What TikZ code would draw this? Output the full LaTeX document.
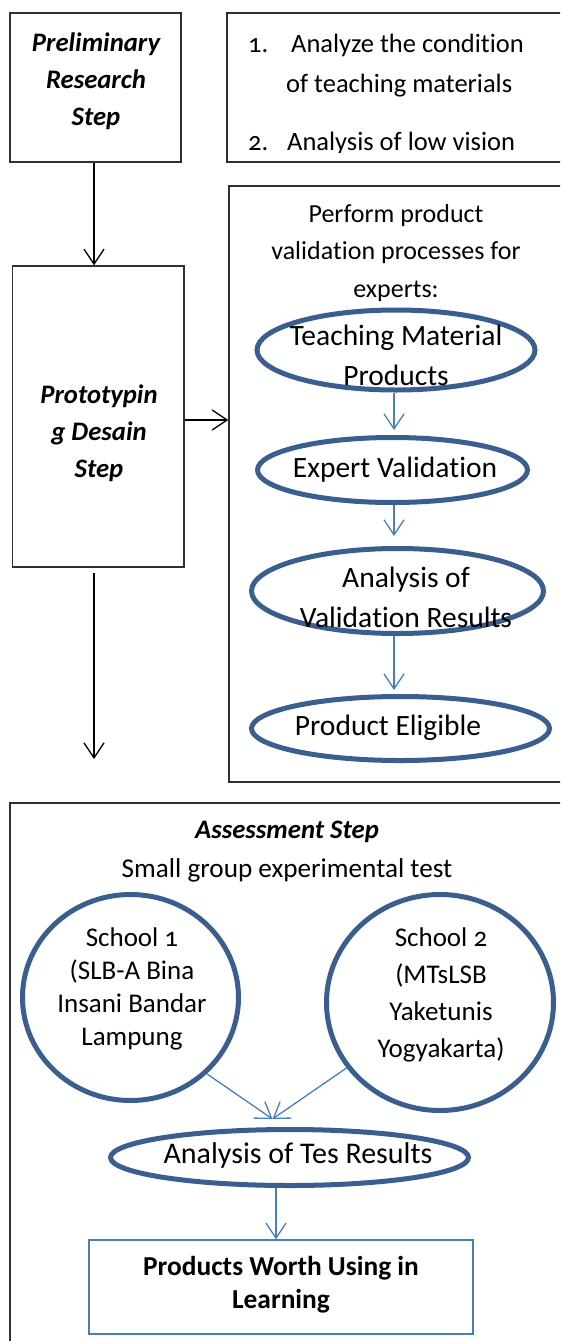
\documentclass[tikz,border=0pt]{standalone}
\usepackage{fontspec}
\setmainfont{Carlito}[Numbers=OldStyle, Ligatures={NoCommon,NoContextual}, Contextuals=NoAlternate]
\usetikzlibrary{arrows.meta,shapes.geometric,calc}
\definecolor{ellblue}{HTML}{3A5F8E}
\definecolor{arrblue}{HTML}{4A7EBB}
\definecolor{boxline}{HTML}{303030}
\newcommand{\ml}[1]{\begin{tabular}[t]{@{}c@{}}#1\end{tabular}}
\begin{document}
\begin{tikzpicture}[x=1pt,y=-1pt,
  box/.style={draw=boxline, line width=1.4pt, rectangle, inner sep=0pt},
  ell/.style={draw=ellblue, line width=5pt, ellipse, inner sep=0pt},
  txt/.style={anchor=base, inner sep=0pt},
  ltxt/.style={anchor=base west, inner sep=0pt},
  karrow/.style={draw=black, line width=1.3pt, -{Straight Barb[length=15pt,width=20pt]}},
  barrow/.style={draw=arrblue, line width=1.3pt, -{Straight Barb[length=15pt,width=20pt]}},
  fbox/.style={font=\fontsize{26}{37.5}\selectfont},
  fbi/.style={font=\fontsize{26.7}{37}\selectfont\bfseries\itshape},
  fell/.style={font=\fontsize{29.5}{40}\selectfont},
]
\clip (0,0) rectangle (560,1341);
\fill[white] (0,0) rectangle (560,1341);

% top row
\node[box, minimum width=171pt, minimum height=149pt] (b1) at (95.5,87.5) {};
\node[txt, fbi] (t1) at (96,51) {\ml{Preliminary\\Research\\Step}};

\node[box, minimum width=343pt, minimum height=149pt] (b2) at (398.5,87.5) {};
\begin{scope}
\clip (220,15) rectangle (570,152);
\node[ltxt, font=\fontsize{26.5}{37}\selectfont] (n1) at (248,52) {1.};
\node[ltxt, font=\fontsize{26.5}{37}\selectfont] (l1) at (291,52) {Analyze the condi\kern0pt tion};
\node[ltxt, font=\fontsize{26.5}{37}\selectfont] (l2) at (286,92) {of teaching materials};
\node[ltxt, font=\fontsize{26.5}{37}\selectfont] (n2) at (248,150) {2.};
\node[ltxt, font=\fontsize{26.5}{37}\selectfont] (l3) at (287,150) {Analysis of low vision};
\end{scope}

% prototyping
\node[box, minimum width=171.5pt, minimum height=301pt] (b3) at (98.25,416.5) {};
\node[txt, fbi] (t3) at (99,403) {\ml{Prototypin\\g Desain\\Step}};

\node[box, minimum width=341pt, minimum height=596pt] (b4) at (399.5,484) {};
\node[txt, fbox] (t4) at (396,222) {\ml{Perform product\\valida\kern0pt tion processes for\\experts:}};

\node[ell, minimum width=278pt, minimum height=80pt] (e1) at (396,350) {};
\node[txt, fell] (te1) at (396,345) {\ml{Teaching Material\\Products}};
\node[ell, minimum width=270pt, minimum height=65pt] (e2) at (392.5,470) {};
\node[txt, fell] (te2) at (395,477) {Expert Valida\kern0pt tion};
\node[ell, minimum width=292pt, minimum height=85pt] (e3) at (397.5,591) {};
\node[txt, fell] (te3) at (406,587) {\ml{Analysis of\\Valida\kern0pt tion Results}};
\node[ell, minimum width=298pt, minimum height=64pt] (e4) at (400.5,728.5) {};
\node[txt, fell] (te4) at (388,735) {Product Eligible};

\draw[barrow, shorten >=5pt] ([xshift=-2pt]e1.south) -- ([xshift=-2pt]e1.south |- e2.north);
\draw[barrow, shorten >=10pt] ([xshift=1.5pt]e2.south) -- ([xshift=1.5pt]e2.south |- e3.north);
\draw[barrow, shorten >=4pt] ([xshift=-3.5pt]e3.south) -- ([xshift=-3.5pt]e3.south |- e4.north);

% black arrows
\draw[karrow] ([xshift=-1.5pt]b1.south) -- ([xshift=-1.5pt]b1.south |- b3.north);
\draw[karrow] ([yshift=-3.5pt]b3.east) -- ([yshift=-3.5pt]b3.east -| b4.west);
\coordinate (down) at (94,759);
\draw[karrow] ([xshift=-4.25pt,yshift=-5pt]b3.south) -- (down);

% assessment
\node[box, minimum width=560pt, minimum height=560pt] (b5) at (290,1083) {};
\node[txt, fbi] (t5) at (287,838) {Assessment Step};
\node[txt, font=\fontsize{27.2}{37}\selectfont] (t6) at (287,877) {Small group experimental test};

\node[ell, minimum width=216pt, minimum height=206pt] (c1) at (130.5,997.5) {};
\node[txt, font=\fontsize{27}{33}\selectfont] (tc1) at (132,946) {\ml{School 1\\(SLB-A Bina\\Insani Bandar\\Lampung}};
\node[ell, minimum width=227pt, minimum height=216pt] (c2) at (440,1002.5) {};
\node[txt, font=\fontsize{27}{37}\selectfont] (tc2) at (441,946) {\ml{School 2\\(MTsLSB\\Yaketunis\\Yogyakarta)}};

\node[ell, minimum width=358pt, minimum height=56pt] (e5) at (289.5,1157.5) {};
\node[txt, font=\fontsize{30}{40}\selectfont] (te5) at (298,1163) {Analysis of Tes Results};

\draw[barrow] (c1.-45) -- ([xshift=-17pt,yshift=8pt]e5.north);
\draw[barrow] (c2.215) -- ([xshift=-17pt,yshift=8pt]e5.north);

\node[box, draw=arrblue, minimum width=384pt, minimum height=94pt] (b6) at (281,1287) {};
\node[txt, font=\fontsize{27.4}{33}\selectfont\bfseries] (t7) at (281,1275) {\ml{Products Worth Using in\\Learning}};
\draw[barrow] ([xshift=-13.5pt]e5.south) -- ([xshift=-13.5pt]e5.south |- b6.north);
\end{tikzpicture}
\end{document}
